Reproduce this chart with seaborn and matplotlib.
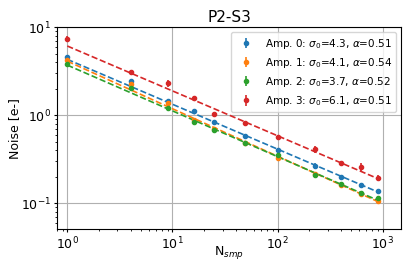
import numpy as np
import pandas as pd
import matplotlib
matplotlib.use('Agg')
import matplotlib.pyplot as plt
import seaborn as sns

# number of samples (N_smp)
n_smp = [1, 4, 9, 16, 25, 49, 100, 225, 400, 625, 900]

amps = ['Amp. 0', 'Amp. 1', 'Amp. 2', 'Amp. 3']

# measured noise [e-] per amplifier
noise_amp0 = [4.6, 2.43, 1.44, 1.12, 0.825, 0.58, 0.40, 0.263, 0.20, 0.162, 0.137]
noise_amp1 = [4.2, 2.23, 1.36, 0.89, 0.69, 0.476, 0.322, 0.215, 0.16, 0.127, 0.106]
noise_amp2 = [3.83, 2.03, 1.21, 0.84, 0.68, 0.485, 0.35, 0.21, 0.165, 0.131, 0.114]
noise_amp3 = [7.3, 3.08, 2.29, 1.56, 1.02, 0.81, 0.56, 0.407, 0.282, 0.259, 0.194]

# errors
err_amp0 = [0.2, 0.1, 0.05, 0.05, 0.03, 0.02, 0.015, 0.02, 0.008, 0.006, 0.005]
err_amp1 = [0.15, 0.08, 0.05, 0.04, 0.03, 0.02, 0.012, 0.008, 0.006, 0.005, 0.004]
err_amp2 = [0.15, 0.08, 0.05, 0.03, 0.025, 0.02, 0.012, 0.01, 0.006, 0.005, 0.005]
err_amp3 = [0.6, 0.2, 0.22, 0.1, 0.06, 0.04, 0.04, 0.037, 0.012, 0.025, 0.013]

# fit parameters: noise = sigma0 * N^-alpha
sigma0 = [4.3, 4.1, 3.7, 6.1]
alpha = [0.51, 0.54, 0.52, 0.51]

noise = [noise_amp0, noise_amp1, noise_amp2, noise_amp3]
errs = [err_amp0, err_amp1, err_amp2, err_amp3]

fig, ax = plt.subplots(figsize=(4.11, 2.74), dpi=100)
colors = sns.color_palette('tab10', 4)

for i, amp in enumerate(amps):
    x = np.array(n_smp)
    ax.errorbar(x, noise[i], yerr=errs[i], fmt='o', ms=3, color=colors[i],
                elinewidth=1.2,
                label=amp + r': $\sigma_0$=%.1f, $\alpha$=%.2f' % (sigma0[i], alpha[i]))
    fit = pd.DataFrame({'x': x, 'y': sigma0[i] * x ** (-alpha[i])})
    sns.lineplot(data=fit, x='x', y='y', ax=ax, color=colors[i],
                 linestyle='--', linewidth=1.2, label='_nolegend_')

ax.set_xscale('log')
ax.set_yscale('log')
ax.set_xlim(0.8, 1500)
ax.set_ylim(0.0507, 10)
ax.grid(True, which='major', color='#b0b0b0', linewidth=0.8)
ax.tick_params(which='major', labelsize=9, length=2.5, pad=2)
ax.tick_params(which='minor', length=1.5)
ax.set_xlabel(r'N$_{smp}$', fontsize=9)
ax.set_ylabel('Noise [e-]', fontsize=9)
ax.xaxis.set_label_coords(0.5, -0.074)
ax.yaxis.set_label_coords(-0.105, 0.5)
ax.set_title('P2-S3', fontsize=11, pad=4)
ax.legend(loc='upper right', fontsize=7.5)

plt.subplots_adjust(left=0.139, right=0.976, bottom=0.164, top=0.901)
plt.savefig('out.png', dpi=100)
